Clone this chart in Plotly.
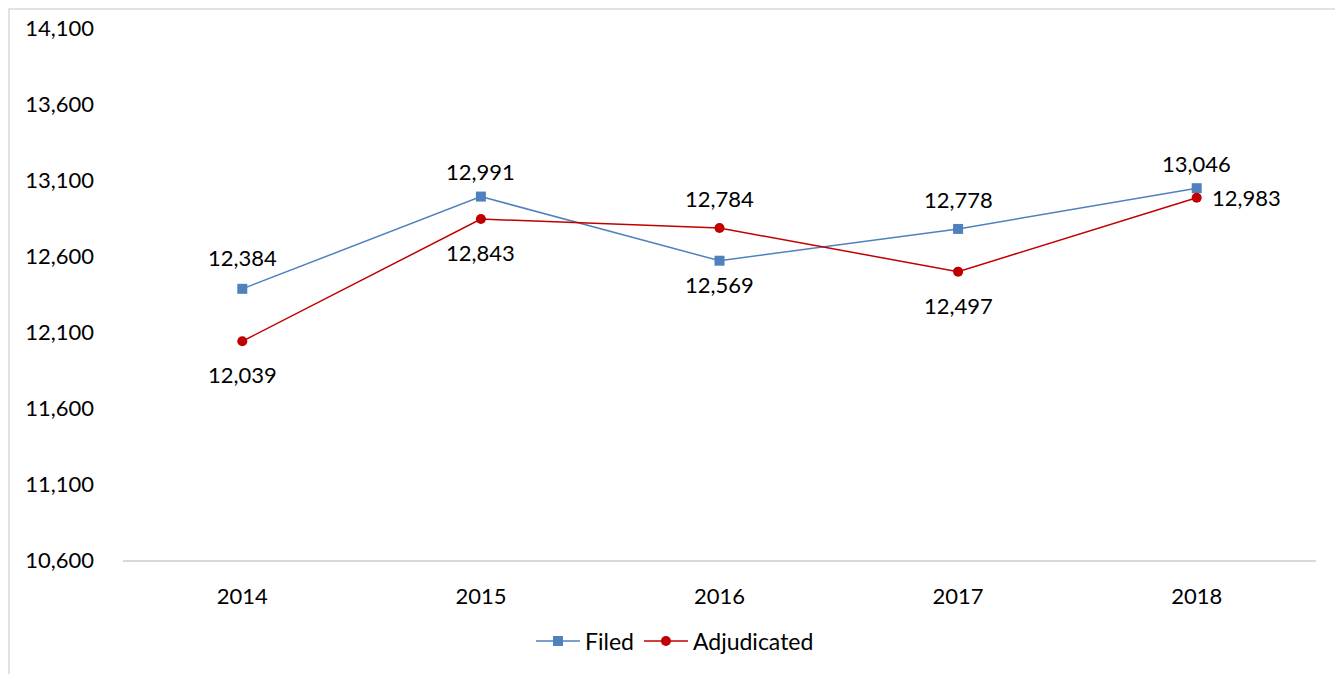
import plotly.graph_objects as go

years = ["2014", "2015", "2016", "2017", "2018"]
filed = [12384, 12991, 12569, 12778, 13046]
adjudicated = [12039, 12843, 12784, 12497, 12983]
y_ticks = [10600, 11100, 11600, 12100, 12600, 13100, 13600, 14100]

# label placement (styling only): (xshift, yshift) per point
filed_shift = [(0, 31), (0, 25), (0, -24), (0, 29), (0, 25)]
adj_shift = [(0, -33), (0, -33), (0, 30), (0, -34), (50, 0)]

FONT = "Lato, 'Open Sans', sans-serif"
BLUE = "#4F81BD"
RED = "#C00000"

# page body has an 8px margin; figure is sized/placed to compensate
W, H = 1335, 666
L, T = 115, 20
R = W - 1308
B = H - 552
pw, ph = W - L - R, H - T - B

fig = go.Figure()
fig.add_trace(go.Scatter(
    x=years, y=filed, name="Filed", mode="lines+markers",
    line=dict(color=BLUE, width=1.5),
    marker=dict(symbol="square", size=10, color=BLUE),
))
fig.add_trace(go.Scatter(
    x=years, y=adjudicated, name="Adjudicated", mode="lines+markers",
    line=dict(color=RED, width=1.5),
    marker=dict(symbol="circle", size=10, color=RED),
))

annotations = []
for series, shifts in ((filed, filed_shift), (adjudicated, adj_shift)):
    for i, (v, (dx, dy)) in enumerate(zip(series, shifts)):
        annotations.append(dict(
            x=i, y=v, xref="x", yref="y", text=f"{v:,}", showarrow=False,
            xshift=dx, yshift=dy, font=dict(family=FONT, size=22, color="#000000"),
        ))

fig.update_layout(
    width=W, height=H,
    margin=dict(l=L, r=R, t=T, b=B, autoexpand=False),
    paper_bgcolor="white", plot_bgcolor="white",
    font=dict(family=FONT, size=22, color="#000000"),
    showlegend=True,
    legend=dict(orientation="h", x=(675 - 8 - L) / pw, y=(552 - 633) / ph,
                xanchor="center", yanchor="middle", itemwidth=44,
                font=dict(family=FONT, size=23), tracegroupgap=0),
    annotations=annotations,
    shapes=[dict(type="rect", xref="paper", yref="paper",
                 x0=(1 - L) / pw, x1=(1332 - L) / pw,
                 y0=(552 - 700) / ph, y1=(552 - 1) / ph,
                 line=dict(color="#D9D9D9", width=1.5), fillcolor="rgba(0,0,0,0)", layer="below")],
)
fig.update_xaxes(
    type="category", range=[-0.5, 4.5], showgrid=False, showline=True,
    linecolor="#D9D9D9", linewidth=1.5, ticks="", tickfont=dict(family=FONT, size=22),
    ticklabelstandoff=16, zeroline=False, automargin=False,
)
fig.update_yaxes(
    range=[10600, 14100], tickvals=y_ticks, ticktext=[f"{t:,}" for t in y_ticks],
    showgrid=False, showline=False, zeroline=False, ticks="",
    tickfont=dict(family=FONT, size=22), ticklabelstandoff=28, automargin=False,
)

fig.write_html("out.html")
